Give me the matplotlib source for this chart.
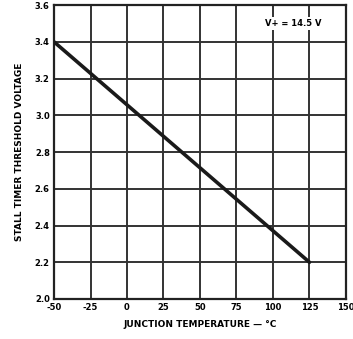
import matplotlib
matplotlib.use("Agg")
import matplotlib.pyplot as plt

# Data
temp = [-50, 125]          # junction temperature, degC
voltage = [3.4, 2.2]       # stall timer threshold voltage, V

x_ticks = [-50, -25, 0, 25, 50, 75, 100, 125, 150]
x_labels = ["-50", "-25", "0", "25", "50", "75", "100", "125", "150"]
y_ticks = [2.0, 2.2, 2.4, 2.6, 2.8, 3.0, 3.2, 3.4, 3.6]
y_labels = ["2.0", "2.2", "2.4", "2.6", "2.8", "3.0", "3.2", "3.4", "3.6"]

fig = plt.figure(figsize=(3.53, 3.39), dpi=100)
ax = fig.add_axes([0.153, 0.118, 0.827, 0.867])

ax.plot(temp, voltage, color="#1a1a1a", linewidth=2.6, solid_capstyle="round", zorder=3)

ax.set_xlim(-50, 150)
ax.set_ylim(2.0, 3.6)
ax.set_xticks(x_ticks)
ax.set_xticklabels(x_labels)
ax.set_yticks(y_ticks)
ax.set_yticklabels(y_labels)
ax.tick_params(length=0, labelsize=6, pad=3)
for lbl in ax.get_xticklabels() + ax.get_yticklabels():
    lbl.set_fontweight("bold")

ax.grid(True, color="#333333", linewidth=1.4)
for s in ax.spines.values():
    s.set_linewidth(1.6)
    s.set_color("#222222")

ax.set_xlabel("JUNCTION TEMPERATURE \u2014 \u00b0C", fontsize=6.5, fontweight="bold", labelpad=6)
ax.set_ylabel("STALL TIMER THRESHOLD VOLTAGE", fontsize=6.5, fontweight="bold", labelpad=8)

ax.text(114, 3.5, "V+ = 14.5 V", fontsize=6, fontweight="bold", ha="center", va="center",
        bbox=dict(facecolor="white", edgecolor="none", pad=1.5), zorder=4)

plt.savefig("out.png", dpi=100)
